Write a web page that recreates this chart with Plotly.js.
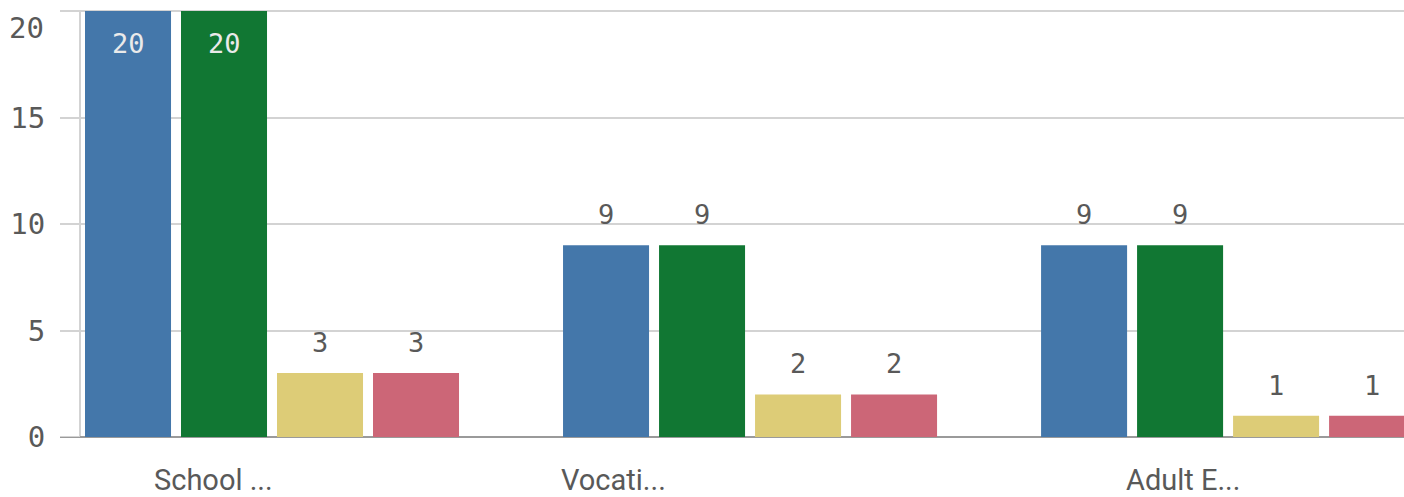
<!DOCTYPE html>
<html><head><meta charset="utf-8">
<script src="https://cdn.plot.ly/plotly-3.0.1.min.js"></script>
<style>html,body{margin:0;padding:0;background:#fff;}#chart{width:1404px;height:497px;}</style>
</head><body><div id="chart"></div>
<script>
const categories = ["School ...", "Vocati...", "Adult E..."];
const seriesA = [20, 9, 9];
const seriesB = [20, 9, 9];
const seriesC = [3, 2, 1];
const seriesD = [3, 2, 1];
const yTicks = [0, 5, 10, 15, 20];

const series = [seriesA, seriesB, seriesC, seriesD];
const colors = ['#4477aa', '#117733', '#ddcc77', '#cc6677'];
const labelShift = [-59, -137, -45];
const slot = 96;
const yMax = yTicks[yTicks.length - 1];
const tickFont = {family: 'DejaVu Sans Mono', size: 29, color: '#595959'};

const traces = series.map((vals, i) => ({
  type: 'bar', x: categories, y: vals,
  marker: {color: colors[i], line: {width: 0}},
  hoverinfo: 'none', showlegend: false
}));

const annotations = [];
series.forEach((vals, i) => {
  vals.forEach((v, j) => {
    const inside = v >= yMax * 0.9;
    annotations.push({
      x: categories[j], y: v, xref: 'x', yref: 'y',
      text: String(v), showarrow: false,
      xshift: (i - 1.5) * slot,
      yanchor: inside ? 'top' : 'bottom',
      yshift: inside ? -15 : 13,
      font: {family: 'DejaVu Sans Mono', size: 27, color: inside ? '#eaeaea' : '#595959'}
    });
  });
});
categories.forEach((c, j) => {
  annotations.push({
    x: c, y: 0, xref: 'x', yref: 'y', text: c, showarrow: false,
    xshift: labelShift[j], yshift: -43, yanchor: 'middle', borderpad: 0,
    font: {family: 'Roboto', size: 29, color: '#595959'}
  });
});
// top tick label sits below its gridline (as in the reference)
annotations.push({
  x: 0, xref: 'paper', xanchor: 'right', xshift: -14,
  y: yMax, yref: 'y', yanchor: 'top', yshift: 2,
  text: String(yMax), showarrow: false, font: tickFont
});

const layout = {
  width: 1404, height: 497,
  margin: {l: 60, r: 0, t: 10, b: 60},
  paper_bgcolor: '#ffffff', plot_bgcolor: '#ffffff',
  barmode: 'group', bargap: 0.1967, bargroupgap: 0.104,
  xaxis: {range: [-0.4435, 2.368], showticklabels: false, showgrid: false, zeroline: false, showline: false, ticks: ''},
  yaxis: {range: [0, yMax + 0.047], tickvals: yTicks,
    ticktext: yTicks.map(t => t === yMax ? '' : String(t)),
    showgrid: true, gridcolor: '#d3d3d3', gridwidth: 2,
    zeroline: true, zerolinecolor: '#9a9a9a', zerolinewidth: 2,
    showline: false, ticks: 'outside', ticklen: 8, tickcolor: 'rgba(0,0,0,0)',
    tickfont: tickFont},
  shapes: [
    {type: 'line', xref: 'paper', yref: 'y', x0: 0, x1: 1, y0: yMax, y1: yMax,
     line: {color: '#d3d3d3', width: 2}, layer: 'below'},
    {type: 'line', xref: 'paper', yref: 'y', x0: 20/1344, x1: 20/1344, y0: 0, y1: yMax,
     line: {color: '#d3d3d3', width: 2}, layer: 'below'},
    {type: 'line', xref: 'paper', yref: 'y', x0: 0, x1: 20/1344, y0: 0, y1: 0,
     line: {color: '#d3d3d3', width: 2}, layer: 'above'}
  ],
  annotations: annotations,
  font: {family: 'Roboto', color: '#595959'}
};

Plotly.newPlot('chart', traces, layout, {displayModeBar: false, staticPlot: true});
</script></body></html>
